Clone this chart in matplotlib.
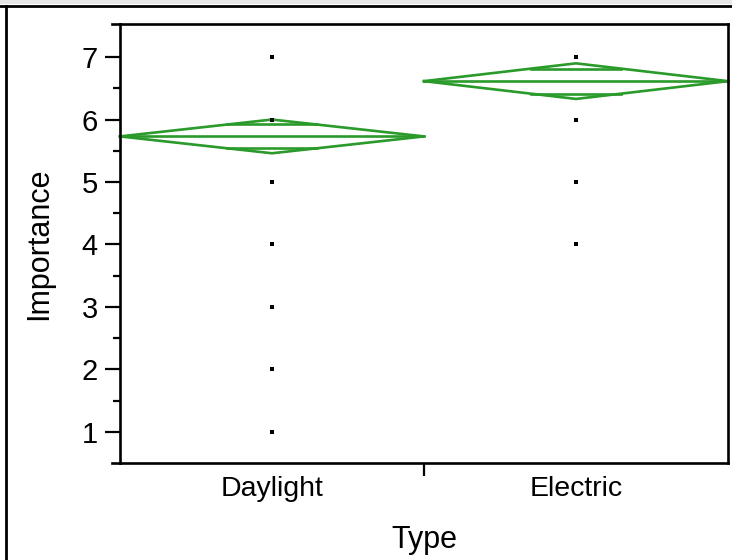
import numpy as np
import matplotlib.pyplot as plt
from matplotlib.lines import Line2D
from matplotlib.patches import Rectangle

plt.rcParams['font.family'] = ['Liberation Sans', 'DejaVu Sans']

# Data
types = ['Daylight', 'Electric']
daylight_vals = [7, 6, 5, 4, 3, 2, 1]
electric_vals = [7, 6, 5, 4]
means = [5.73, 6.615]
ci_half = [0.27, 0.285]
yticks = [1, 2, 3, 4, 5, 6, 7]

green = '#2a9a2a'

fig = plt.figure(figsize=(7.32, 5.6), dpi=100)
ax = fig.add_axes([120 / 732, 97 / 560, 608 / 732, 439 / 560])

# raw points
for i, vals in enumerate([daylight_vals, electric_vals]):
    ax.scatter([i] * len(vals), vals, marker='s', s=10, color='black', zorder=3, linewidths=0)

# means diamonds
for i, (m, h) in enumerate(zip(means, ci_half)):
    left, right = i - 0.5, i + 0.5
    ax.plot([left, i, right, i, left], [m, m + h, m, m - h, m], color=green, lw=1.9,
            clip_on=False, zorder=2)
    ax.plot([left, right], [m, m], color=green, lw=1.9, clip_on=False, zorder=2)
    # overlap marks
    off = h / np.sqrt(2)
    half_w = 0.5 * (1 - 1 / np.sqrt(2))
    for y in (m + off, m - off):
        ax.plot([i - half_w, i + half_w], [y, y], color=green, lw=1.9, zorder=2)

ax.set_xlim(-0.5, 1.5)
ax.set_ylim(0.5, 7.53)

ax.set_yticks(yticks)
ax.set_yticks(np.arange(1.5, 7.5, 1), minor=True)
ax.tick_params(axis='y', which='major', length=11, width=1.6, labelsize=21, pad=5)
ax.tick_params(axis='y', which='minor', length=5, width=1.6)

ax.set_xticks(range(len(types)))
ax.set_xticklabels(types)
ax.set_xticks([0.5], minor=True)
ax.tick_params(axis='x', which='major', length=0, labelsize=20.5, pad=9)
ax.tick_params(axis='x', which='minor', length=9, width=1.6)

for s in ax.spines.values():
    s.set_linewidth(1.9)

# top/bottom frame lines stick out past the y axis
for yy in (0, 1):
    ax.add_line(Line2D([-8 / 608, 0], [yy, yy], transform=ax.transAxes, color='black',
                       lw=1.9, clip_on=False))

ax.set_ylabel('Importance', fontsize=22, labelpad=20)
ax.set_xlabel('Type', fontsize=22, labelpad=17)

# outer window frame
fig.patches.append(Rectangle((0, 1 - 4 / 560), 1, 4 / 560, transform=fig.transFigure,
                             facecolor='#e6e6e6', edgecolor='none'))
fig.add_artist(Line2D([0, 1], [1 - 6 / 560, 1 - 6 / 560], transform=fig.transFigure,
                      color='black', lw=2))
fig.add_artist(Line2D([6 / 732, 6 / 732], [0, 1 - 6 / 560], transform=fig.transFigure,
                      color='black', lw=2))

fig.savefig('out.png', dpi=100)
